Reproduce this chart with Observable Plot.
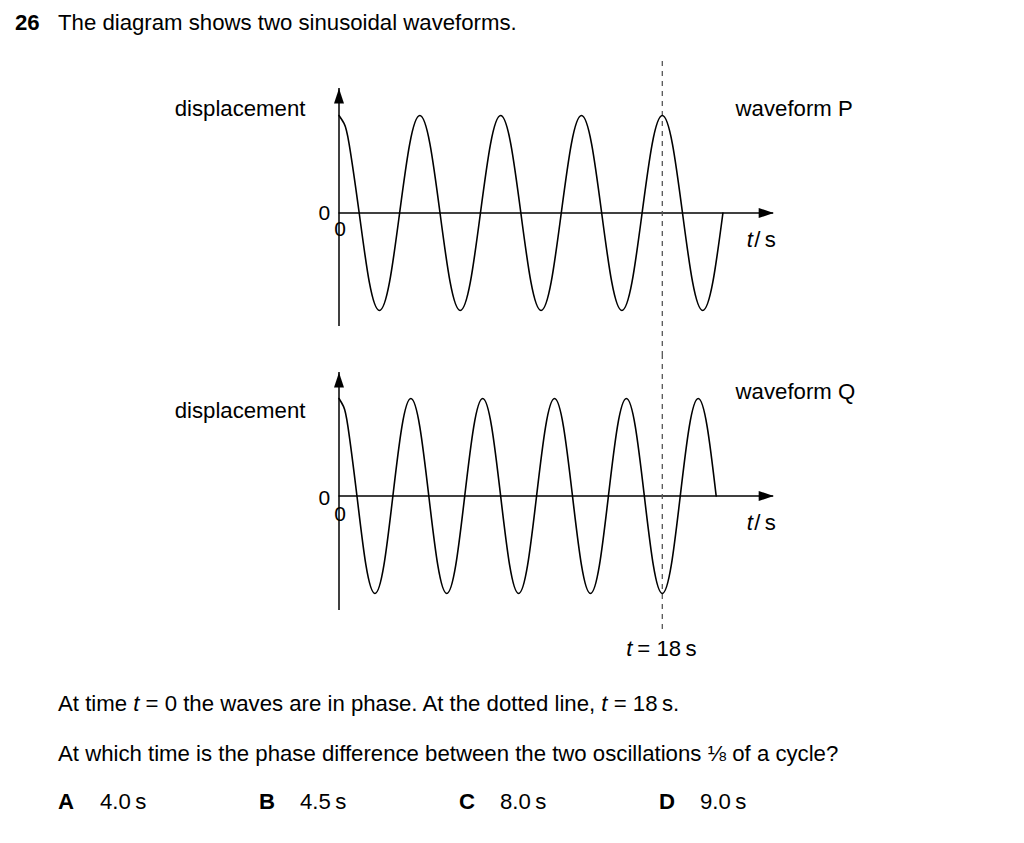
<!DOCTYPE html>
<html><head><meta charset="utf-8">
<script src="https://cdn.jsdelivr.net/npm/d3@7"></script>
<script src="https://cdn.jsdelivr.net/npm/@observablehq/plot@0.6"></script>
<style>
body{margin:0;background:#fff;}
#page{position:relative;width:1024px;height:843px;font-family:"Liberation Sans",Arial,Helvetica,sans-serif;color:#000;overflow:hidden;background:#fff;}
.t{position:absolute;font-size:22.2px;line-height:22px;white-space:nowrap;}
.b{font-weight:bold;}
.panel{position:absolute;left:0;}
.panel svg{overflow:visible;display:block;}
</style></head><body>
<div id="page">
  <div class="t b" style="left:15px;top:12px">26</div>
  <div class="t" style="left:58px;top:12px">The diagram shows two sinusoidal waveforms.</div>
  <div id="panelP" class="panel" style="top:0px"></div>
  <div id="panelQ" class="panel" style="top:354px"></div>
  <div class="t" style="left:58px;top:693px">At time <i>t</i> = 0 the waves are in phase. At the dotted line, <i>t</i> = 18&#8201;s.</div>
  <div class="t" style="left:58px;top:743px">At which time is the phase difference between the two oscillations &#8539; of a cycle?</div>
  <div class="t b" style="left:58px;top:791px">A</div><div class="t" style="left:100px;top:791px">4.0&#8201;s</div>
  <div class="t b" style="left:259px;top:791px">B</div><div class="t" style="left:300px;top:791px">4.5&#8201;s</div>
  <div class="t b" style="left:459px;top:791px">C</div><div class="t" style="left:500px;top:791px">8.0&#8201;s</div>
  <div class="t b" style="left:659px;top:791px">D</div><div class="t" style="left:700px;top:791px">9.0&#8201;s</div>
</div>
<script>
// Waveform P: key points (time in s, displacement in units of amplitude)
const pTime = [0, 0.28, 0.5625, 1.125, 1.6875, 2.25, 2.8125, 3.375, 3.9375, 4.5, 5.0625, 5.625, 6.1875, 6.75, 7.3125, 7.875, 8.4375,
  9, 9.5625, 10.125, 10.6875, 11.25, 11.8125, 12.375, 12.9375, 13.5, 14.0625, 14.625, 15.1875, 15.75, 16.3125, 16.875, 17.4375,
  18, 18.5625, 19.125, 19.6875, 20.25, 20.8125, 21.375];
const pDisp = [1, .92, .71, 0, -.71, -1, -.71, 0, .71, 1, .71, 0, -.71, -1, -.71, 0, .71,
  1, .71, 0, -.71, -1, -.71, 0, .71, 1, .71, 0, -.71, -1, -.71, 0, .71,
  1, .71, 0, -.71, -1, -.71, 0];
// Waveform Q
const qTime = [0, 0.25, 0.5, 1, 1.5, 2, 2.5, 3, 3.5, 4, 4.5, 5, 5.5, 6, 6.5, 7, 7.5, 8, 8.5, 9, 9.5, 10, 10.5,
  11, 11.5, 12, 12.5, 13, 13.5, 14, 14.5, 15, 15.5, 16, 16.5, 17, 17.5, 18, 18.5, 19, 19.5, 20, 20.5, 21];
const qDisp = [1, .92, .71, 0, -.71, -1, -.71, 0, .71, 1, .71, 0, -.71, -1, -.71, 0, .71,
  1, .71, 0, -.71, -1, -.71, 0, .71, 1, .71, 0, -.71, -1, -.71, 0, .71,
  1, .71, 0, -.71, -1, -.71, 0, .71, 1, .71, 0];
const markTime = 18;           // dotted line
const yAxisLabel = "displacement";
const xAxisUnit = "/\u2009s";
const panelNames = ["waveform P", "waveform Q"];

const waveP = pTime.map((t, i) => ({t, d: pDisp[i]}));
const waveQ = qTime.map((t, i) => ({t, d: qDisp[i]}));

const FONT = '"Liberation Sans", Arial, Helvetica, sans-serif';
const FS = 22.2;
const arrowUp = {draw(ctx) { ctx.moveTo(0, 0); ctx.lineTo(5, 15); ctx.lineTo(-5, 15); ctx.closePath(); }};

function panel(o) {
  const axisEnd = 24.2;
  const marks = [
    Plot.ruleY([0], {x1: 0, x2: axisEnd, stroke: "#000", strokeWidth: 1.5}),
    Plot.ruleX([0], {y1: o.yBottom, y2: o.yTop, stroke: "#000", strokeWidth: 1.5}),
    Plot.dot([0], {x: axisEnd, y: 0, symbol: arrowUp, rotate: 90, fill: "#000", stroke: null}),
    Plot.dot([0], {x: 0, y: o.yTop, symbol: arrowUp, fill: "#000", stroke: null}),
    Plot.ruleX([markTime], {y1: o.dashTop, y2: o.dashBottom, stroke: "#555", strokeWidth: 1.3, strokeDasharray: "5,5"}),
    Plot.line(o.wave, {x: "t", y: "d", curve: "natural", stroke: "#000", strokeWidth: 1.6}),
    Plot.text([yAxisLabel], {x: -1.87, y: o.dispY, text: d => d, textAnchor: "end", fontSize: FS, fontFamily: FONT, fill: "#000"}),
    Plot.text([o.name], {x: 22.08, y: 1.072, text: d => d, textAnchor: "start", fontSize: FS, fontFamily: FONT, fill: "#000"}),
    Plot.text(["t"], {x: 23.05, y: -0.272, text: d => d, textAnchor: "end", fontStyle: "italic", fontSize: FS, fontFamily: FONT, fill: "#000"}),
    Plot.text([xAxisUnit], {x: 23.12, y: -0.272, text: d => d, textAnchor: "start", fontSize: FS, fontFamily: FONT, fill: "#000"}),
    Plot.text(["0"], {x: -0.82, y: o.zeroY1, text: d => d, fontSize: 21, fontFamily: FONT, fill: "#000"}),
    Plot.text(["0"], {x: 0.06, y: o.zeroY2, text: d => d, fontSize: 21, fontFamily: FONT, fill: "#000"})
  ];
  if (o.showMark) {
    marks.push(Plot.text(["t"], {x: markTime, y: -1.564, dx: -30, text: d => d, textAnchor: "end", fontStyle: "italic", fontSize: FS, fontFamily: FONT, fill: "#000"}));
    marks.push(Plot.text([`= ${markTime}\u2009s`], {x: markTime, y: -1.564, dx: -25, text: d => d, textAnchor: "start", fontSize: FS, fontFamily: FONT, fill: "#000"}));
  }
  return Plot.plot({
    width: 1024, height: o.height, margin: 0,
    x: {domain: [0, 18], range: [338.5, 661.8], axis: null},
    y: {domain: [-1, 1], range: [o.zero + 97.5, o.zero - 97.5], axis: null},
    style: {background: "transparent", fontFamily: FONT, overflow: "visible"},
    marks
  });
}

document.getElementById("panelP").append(panel({
  wave: waveP, name: panelNames[0], zero: 212.5, height: 354,
  yTop: 1.277, yBottom: -1.164, dispY: 1.072, dashTop: 1.554, dashBottom: -1.451,
  zeroY1: -0.005, zeroY2: -0.17, showMark: false
}));
document.getElementById("panelQ").append(panel({
  wave: waveQ, name: panelNames[1], zero: 141.5, height: 330,
  yTop: 1.267, yBottom: -1.174, dispY: 0.877, dashTop: 1.451, dashBottom: -1.40,
  zeroY1: -0.026, zeroY2: -0.19, showMark: true
}));
</script>
</body></html>
